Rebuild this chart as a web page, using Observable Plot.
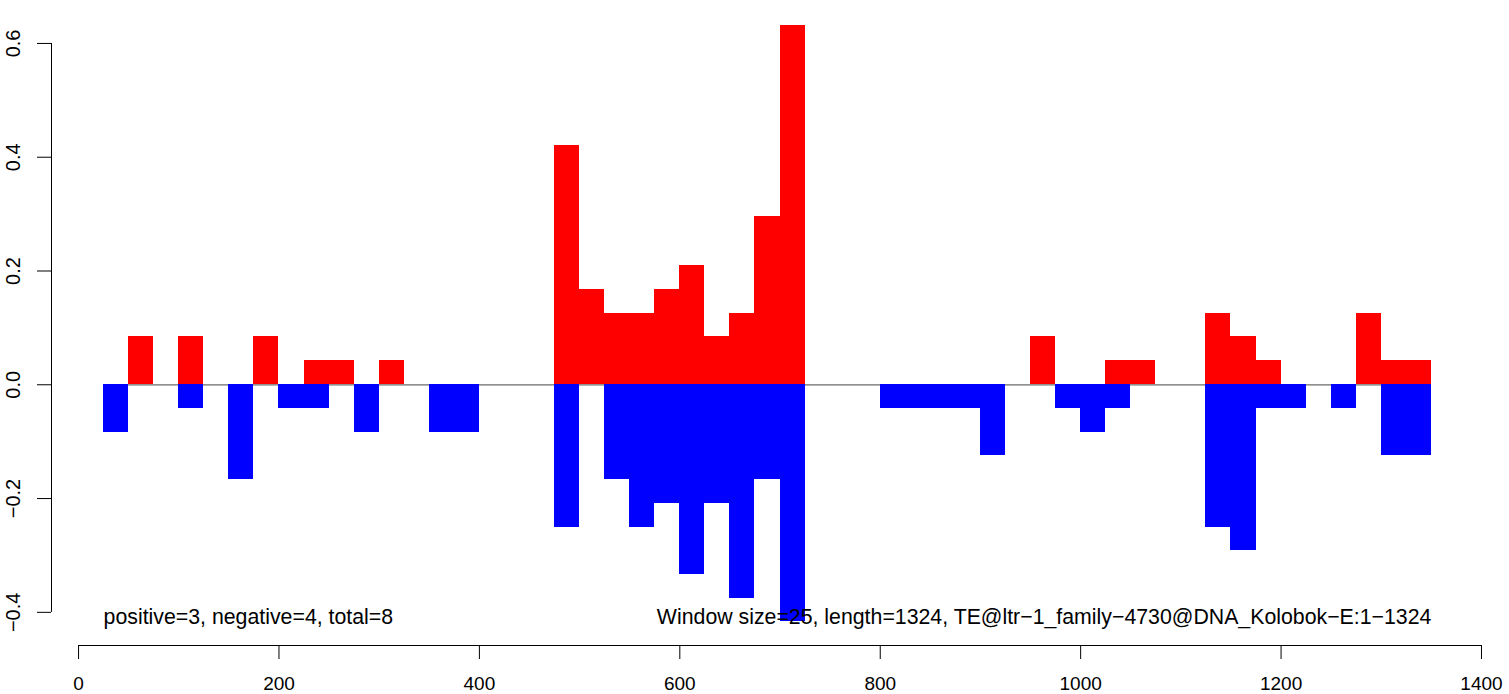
<!DOCTYPE html>
<html>
<head>
<meta charset="utf-8">
<script src="https://cdn.jsdelivr.net/npm/d3@7"></script>
<script src="https://cdn.jsdelivr.net/npm/@observablehq/plot@0.6"></script>
<style>
  html, body { margin: 0; padding: 0; background: #ffffff; }
  #chart { width: 1509px; height: 694px; overflow: hidden; }
</style>
</head>
<body>
<div id="chart"></div>
<script>
// ---- data ----
const windowSize = 25;
const windowStarts = [
  25, 50, 75, 100, 125, 150, 175, 200, 225, 250,
  275, 300, 325, 350, 375, 400, 425, 450, 475, 500,
  525, 550, 575, 600, 625, 650, 675, 700, 725, 750,
  775, 800, 825, 850, 875, 900, 925, 950, 975, 1000,
  1025, 1050, 1075, 1100, 1125, 1150, 1175, 1200, 1225, 1250,
  1275, 1300, 1325
];
const positiveValues = [
  0, 0.084, 0, 0.084, 0, 0, 0.084, 0, 0.042, 0.042,
  0, 0.042, 0, 0, 0, 0, 0, 0, 0.42, 0.168,
  0.126, 0.126, 0.168, 0.21, 0.084, 0.126, 0.295, 0.631, 0, 0,
  0, 0, 0, 0, 0, 0, 0, 0.084, 0, 0,
  0.042, 0.042, 0, 0, 0.126, 0.084, 0.042, 0, 0, 0,
  0.126, 0.042, 0.042
];
const negativeValues = [
  -0.0833, 0, 0, -0.0417, 0, -0.1667, 0, -0.0417, -0.0417, 0,
  -0.0833, 0, 0, -0.0833, -0.0833, 0, 0, 0, -0.25, 0,
  -0.1667, -0.25, -0.2083, -0.3333, -0.2083, -0.375, -0.1667, -0.4167, 0, 0,
  0, -0.0417, -0.0417, -0.0417, -0.0417, -0.125, 0, 0, -0.0417, -0.0833,
  -0.0417, 0, 0, 0, -0.25, -0.2917, -0.0417, -0.0417, 0, -0.0417,
  0, -0.125, -0.125
];
const xTicks = [0, 200, 400, 600, 800, 1000, 1200, 1400];
const yTicks = [-0.4, -0.2, 0, 0.2, 0.4, 0.6];
const summaryLabel = "positive=3, negative=4, total=8";
const infoLabel = "Window size=25, length=1324, TE@ltr\u22121_family\u22124730@DNA_Kolobok\u2212E:1\u22121324";

// ---- derived table ----
const windows = windowStarts.map((s, i) => ({
  x1: s, x2: s + windowSize, pos: positiveValues[i], neg: negativeValues[i]
}));
const firstX = windowStarts[0];
const lastX = windowStarts[windowStarts.length - 1] + windowSize;
const minNeg = d3.min(negativeValues);

const xDomain = [-27, 1403];
const yDomain = [-0.4583, 0.6667];
const font = "'Liberation Sans', Arial, Helvetica, sans-serif";
const fmtY = d => (d < 0 ? "\u2212" : "") + Math.abs(d).toFixed(1);

const chart = Plot.plot({
  width: 1509,
  height: 694,
  marginLeft: 51,
  marginRight: 25,
  marginTop: 5,
  marginBottom: 49,
  style: { fontFamily: font, background: "#ffffff", color: "#000000" },
  x: { domain: xDomain, label: null },
  y: { domain: yDomain, label: null },
  marks: [
    // zero line
    Plot.ruleY([0], { x1: firstX, x2: lastX, stroke: "#6b6b6b", strokeWidth: 1.2 }),
    // bars
    Plot.rectY(windows.filter(d => d.pos > 0), {
      x1: "x1", x2: "x2", y1: 0, y2: "pos", fill: "#ff0000", shapeRendering: "crispEdges"
    }),
    Plot.rectY(windows.filter(d => d.neg < 0), {
      x1: "x1", x2: "x2", y1: 0, y2: "neg", fill: "#0000ff", shapeRendering: "crispEdges"
    }),
    // y axis
    Plot.ruleX([xDomain[0]], { y1: yTicks[0], y2: yTicks[yTicks.length - 1], stroke: "#000000" }),
    Plot.axisY({ ticks: yTicks, tickSize: 14, fill: "none", stroke: "#000000", label: null }),
    Plot.text(yTicks, {
      y: d => d, text: fmtY, frameAnchor: "left", dx: -38, rotate: -90,
      textAnchor: "middle", lineAnchor: "middle", fontSize: 20, fill: "#000000"
    }),
    // x axis
    Plot.ruleY([yDomain[0]], { x1: xTicks[0], x2: xTicks[xTicks.length - 1], stroke: "#000000" }),
    Plot.axisX({
      ticks: xTicks, tickSize: 14, tickPadding: 17, fontSize: 19,
      tickFormat: d => String(d), label: null, stroke: "#000000", fill: "#000000"
    }),
    // annotations
    Plot.text([{ x: firstX, y: minNeg, t: summaryLabel }], {
      x: "x", y: "y", text: "t", textAnchor: "start", lineAnchor: "middle", dy: -5,
      fontSize: 21.3, fill: "#000000"
    }),
    Plot.text([{ x: lastX, y: minNeg, t: infoLabel }], {
      x: "x", y: "y", text: "t", textAnchor: "end", lineAnchor: "middle", dy: -5,
      fontSize: 21.3, fill: "#000000"
    })
  ]
});
document.getElementById("chart").appendChild(chart);
</script>
</body>
</html>
